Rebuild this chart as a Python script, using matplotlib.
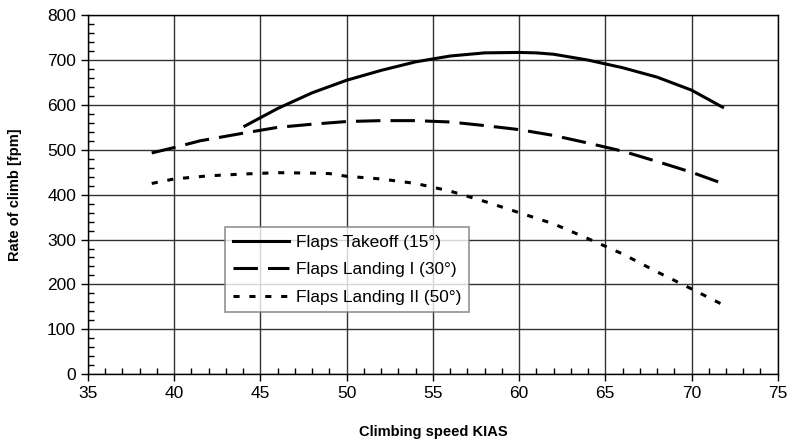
import numpy as np
import matplotlib.pyplot as plt
from matplotlib.ticker import MultipleLocator

plt.rcParams['font.family'] = ['Liberation Sans', 'DejaVu Sans']

# Datos
x_to = [44.1, 46, 48, 50, 52, 54, 56, 58, 60, 61, 62, 64, 66, 68, 70, 71.8]
y_to = [553, 592, 627, 655, 677, 696, 709, 716, 717, 716, 713, 700, 683, 662, 633, 595]

x_l1 = [38.7, 40, 41.5, 44, 46, 48, 50, 52, 54, 56, 58, 60, 62, 64, 66, 68, 70, 71.8]
y_l1 = [493, 505, 520, 537, 550, 557, 563, 565, 565, 562, 554, 545, 532, 515, 497, 474, 450, 425]

x_l2 = [38.7, 40, 42, 44, 46, 48, 49, 50, 52, 54, 56, 58, 60, 62, 64, 66, 68, 70, 71.8]
y_l2 = [425, 435, 442, 446, 449, 448, 447, 441, 435, 425, 408, 385, 360, 335, 302, 268, 228, 190, 155]

labels = ['Flaps Takeoff (15°)', 'Flaps Landing I (30°)', 'Flaps Landing II (50°)']

fig = plt.figure(figsize=(7.92, 4.47), dpi=100)
ax = fig.add_axes([0.111, 0.163, 0.871, 0.803])

ax.plot(x_to, y_to, color='black', lw=2.2, label=labels[0])
ax.plot(x_l1, y_l1, color='black', lw=2.2, dashes=(8, 3.3), label=labels[1])
ax.plot(x_l2, y_l2, color='black', lw=2.2, dashes=(2, 3.2), label=labels[2])

ax.set_xlim(35, 75)
ax.set_ylim(0, 800)
ax.xaxis.set_major_locator(MultipleLocator(5))
ax.xaxis.set_minor_locator(MultipleLocator(1))
ax.yaxis.set_major_locator(MultipleLocator(100))
ax.yaxis.set_minor_locator(MultipleLocator(20))
ax.tick_params(which='major', direction='out', length=5, width=1, labelsize=12.5)
ax.tick_params(which='minor', direction='in', length=4, width=1)
ax.grid(True, which='major', color='#333333', lw=1)
for s in ax.spines.values():
    s.set_linewidth(1)

ax.set_xlabel('Climbing speed KIAS', fontsize=10.5, fontweight='bold', labelpad=17)
ax.set_ylabel('Rate of climb [fpm]', fontsize=10.5, fontweight='bold', labelpad=18)

leg = ax.legend(loc='upper left', bbox_to_anchor=(0.199, 0.41), fontsize=12.4,
                frameon=True, fancybox=False, edgecolor='#777777',
                handlelength=3.25, handletextpad=0.4, borderpad=0.45,
                labelspacing=0.72, borderaxespad=0)
leg.get_frame().set_linewidth(1.2)

plt.savefig('out.png', dpi=100)
